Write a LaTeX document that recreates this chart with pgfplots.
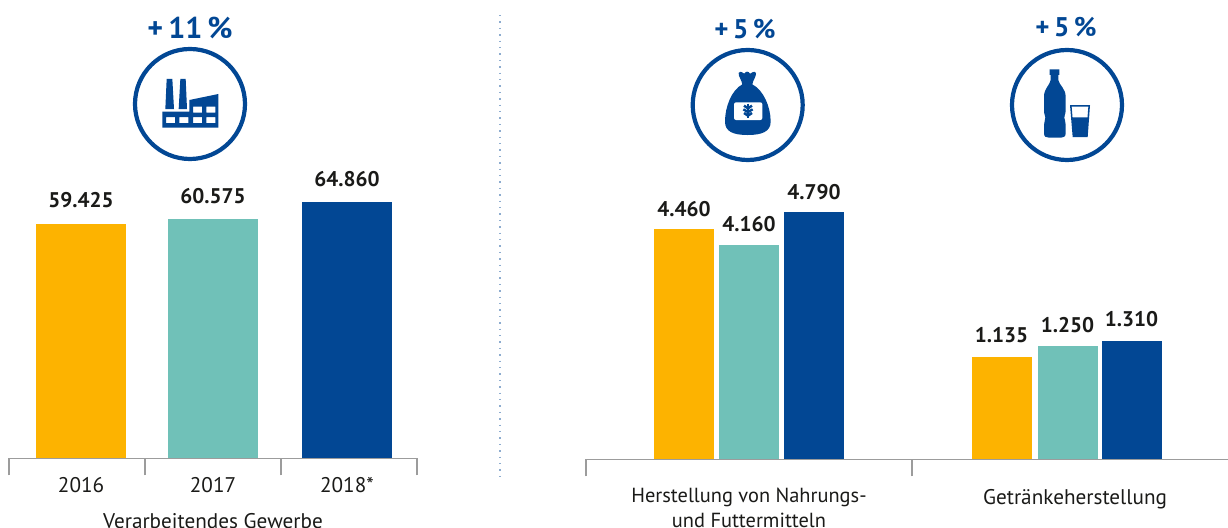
\documentclass[border=0pt]{standalone}
\usepackage{pgfplots}
\pgfplotsset{compat=1.18}
\usepackage{fontspec}
\setmainfont{PT Sans}
\definecolor{cO}{HTML}{FDB300}
\definecolor{cT}{HTML}{70C1B8}
\definecolor{cB}{HTML}{024794}
\definecolor{cTx}{HTML}{1A1A18}
\definecolor{cAx}{HTML}{9C9C9C}
\newcommand{\lblfont}{\fontsize{10.6}{12}\selectfont}
\pgfplotsset{
  base/.style={
    scale only axis, height=150pt, ymin=0, clip=false,
    axis x line*=bottom, axis y line=none,
    axis line style={cAx,line width=0.75pt},
    ybar, bar shift=0pt,
    major tick length=0pt, minor tick length=8.5pt, tick align=outside,
    minor tick style={cAx,line width=0.75pt},
    /pgf/number format/assume math mode=true,
    /pgf/number format/fixed, /pgf/number format/1000 sep={.},
    nodes near coords,
    nodes near coords style={font=\fontsize{10.6}{12}\selectfont\bfseries, text=cTx, anchor=base, yshift=8pt, inner sep=0pt},
    every x tick label/.append style={font=\lblfont, text=cTx, align=center},
  }
}
\begin{document}
\begin{tikzpicture}[x=0.5pt,y=-0.5pt]
\path[use as bounding box] (0,0) rectangle (1228,528);
\clip (0,0) rectangle (1228,528);
% divider
\draw[color=cB!45!white, line width=0.7pt, dash pattern=on 0.7pt off 2.5pt] (500,15) -- (500,476);
% left panel
\begin{axis}[base, at={(4.5pt,-229.25pt)}, anchor=south west, width=204pt,
  xmin=-0.5, xmax=2.5, ymax=76000, bar width=45pt,
  xtick={0.03,1,1.985}, xticklabels={2016,2017,2018*},
  minor xtick={-0.5,0.5,1.5,2.5},
  xticklabel style={anchor=base, yshift=-17pt}]
\addplot[fill=cO,draw=none] coordinates {(0.03,59425)};
\addplot[fill=cT,draw=none] coordinates {(1,60575)};
\addplot[fill=cB,draw=none] coordinates {(1.985,64860)};
\end{axis}
\node[font=\lblfont, text=cTx] at (213,521) {Verarbeitendes Gewerbe};
% food
\begin{axis}[base, at={(293pt,-229.75pt)}, anchor=south west, width=163pt,
  xmin=-0.5, xmax=0.5, ymax=5814, bar width=30pt,
  xtick={0}, xticklabels={{Herstellung von Nahrungs-\\[0.5pt]und Futtermitteln}},
  minor xtick={-0.5,0.5},
  nodes near coords style={yshift=-1.5pt},
  xticklabel style={anchor=base, yshift=-34pt, font=\fontsize{10.2}{12}\selectfont}]
\addplot[fill=cO,draw=none,bar shift=-32.5pt] coordinates {(0,4460)};
\addplot[fill=cT,draw=none,bar shift=0pt] coordinates {(0,4160)};
\addplot[fill=cB,draw=none,bar shift=32.5pt] coordinates {(0,4790)};
\end{axis}
% drinks
\begin{axis}[base, at={(456pt,-229.75pt)}, anchor=south west, width=158pt,
  xmin=-0.5, xmax=0.5, ymax=3315, bar width=30pt,
  xtick={0.016}, xticklabels={Getränkeherstellung},
  nodes near coords style={yshift=-1pt},
  xticklabel style={anchor=base, yshift=-22.5pt}]
\addplot[fill=cO,draw=none,bar shift=-32.5pt] coordinates {(-0.011,1135)};
\addplot[fill=cT,draw=none,bar shift=0.5pt] coordinates {(-0.011,1250)};
\addplot[fill=cB,draw=none,bar shift=32.5pt] coordinates {(-0.011,1310)};
\end{axis}
% percent titles
\node[text=cB,font=\fontsize{15}{16}\selectfont\bfseries] at (190,28) {+\,11\,\%};
\node[text=cB,font=\fontsize{13.5}{15}\selectfont\bfseries] at (745,29) {+\,5\,\%};
\node[text=cB,font=\fontsize{13.5}{15}\selectfont\bfseries] at (1066,27) {+\,5\,\%};
% circles
\draw[cB,line width=2.1pt] (190,104) circle (55);
\draw[cB,line width=2.1pt] (747.7,105) circle (55);
\draw[cB,line width=2.1pt] (1067,105) circle (55);
% factory
\begin{scope}[shift={(155,70)},x=0.1667pt,y=-0.1667pt]
\fill[cB] (35,27)--(52,27)--(57,117)--(31,117)--cycle;
\fill[cB] (76,27)--(92,27)--(96,117)--(71,117)--cycle;
\fill[cB,even odd rule] (22,125)--(103,125)--(103,90)--(190,72)--(190,173)--(22,173)--cycle
 (33,141) rectangle (60,159) (73,141) rectangle (100,159)
 (114,141) rectangle (141,159) (154,141) rectangle (181,159)
 (114,110) rectangle (141,128) (154,110) rectangle (181,128);
\end{scope}
% bag
\begin{scope}[shift={(715,65)},x=0.1667pt,y=-0.1667pt]
\fill[cB] (82,58) .. controls (80,45) and (70,35) .. (71,24) .. controls (76,16) and (84,24) .. (88,26)
 .. controls (92,18) and (101,18) .. (105,26) .. controls (110,24) and (118,16) .. (123,24)
 .. controls (124,35) and (114,45) .. (112,58) .. controls (145,75) and (167,125) .. (167,170)
 .. controls (167,200) and (140,210) .. (98,210) .. controls (55,210) and (30,200) .. (30,170)
 .. controls (30,125) and (50,75) .. (82,58) -- cycle;
\fill[white,rounded corners=1pt] (57,112) rectangle (142,165);
\draw[cB,line width=1.1pt] (99,116)--(99,160);
\draw[cB,line width=1.2pt] (87,122)--(99,130)--(111,122) (85,133)--(99,141)--(113,133) (87,144)--(99,152)--(111,144);
\end{scope}
% bottle and glass
\begin{scope}[shift={(1035,65)},x=0.1667pt,y=-0.1667pt]
\fill[cB] (44,13)--(73,13)--(73,30)--(70,30)--(70,45) .. controls (72,60) and (92,70) .. (92,95)
 --(92,135) .. controls (92,150) and (87,150) .. (88,158) .. controls (89,165) and (92,170) .. (92,180)
 --(92,205) .. controls (92,215) and (85,218) .. (78,218) --(42,218) .. controls (33,218) and (27,215) .. (27,205)
 --(27,180) .. controls (27,170) and (31,165) .. (31,158) .. controls (31,150) and (27,150) .. (27,135)
 --(27,95) .. controls (27,70) and (45,60) .. (47,45) --(47,30)--(44,30)--cycle;
\fill[cB,even odd rule] (105,120)--(165,120)--(158,216)--(113,216)--cycle (110,125)--(160,125)--(157.5,157)--(112.5,157)--cycle;
\end{scope}
\end{tikzpicture}
\end{document}
